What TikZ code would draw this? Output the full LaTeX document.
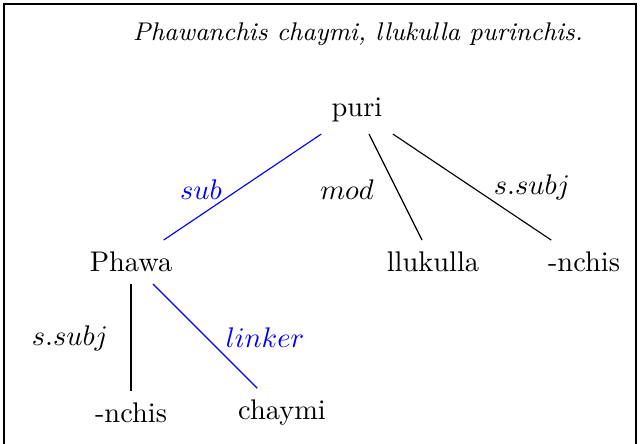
\documentclass[tikz,border=0pt]{standalone}
\usepackage{xcolor}
\usetikzlibrary{positioning}
\definecolor{Link}{RGB}{0,0,255}
\definecolor{Ink}{HTML}{000000}

\begin{document}
\begin{tikzpicture}[x=0.3521pt,y=-0.3521pt,word/.style={inner sep=4pt, text=Ink},rel/.style={text=Ink},linkrel/.style={text=Link},arc/.style={draw=Ink, line width=0.4pt},linkarc/.style={draw=Link, line width=0.4pt},frameline/.style={draw=Ink, line width=0.6pt}]
\useasboundingbox (0,0) rectangle (640,443);
\clip (0,0) rectangle (640,443);
\draw[frameline] (4,460) -- (4,4) -- (636,4) -- (636,460);
\node[font=\small\itshape] (sentence) at (358,34) {Phawanchis chaymi, llukulla purinchis.};
% words
\node[word] (puri) at (357,110) {puri};
\node[word] (phawa) at (131,262) {Phawa};
\node[word] (llukulla) at (433,262) {llukulla};
\node[word] (nchisA) at (584,262) {-nchis};
\node[word] (nchisB) at (131,413) {-nchis};
\node[word] (chaymi) at (282,413) {chaymi};
% arcs
\draw[linkarc] (puri) -- (phawa);
\draw[arc] (puri) -- (llukulla);
\draw[arc] (puri) -- (nchisA);
\draw[arc] (phawa) -- (nchisB);
\draw[linkarc] (phawa) -- (chaymi);
% relation labels
\node[linkrel] (subL) at (201,190) {$sub$};
\node[rel] (modL) at (347,190) {$mod$};
\node[rel] (ssubjA) at (532,187) {$s.subj$};
\node[rel] (ssubjB) at (70,338) {$s.subj$};
\node[linkrel] (linkerL) at (265,338) {$linker$};
\end{tikzpicture}
\end{document}
